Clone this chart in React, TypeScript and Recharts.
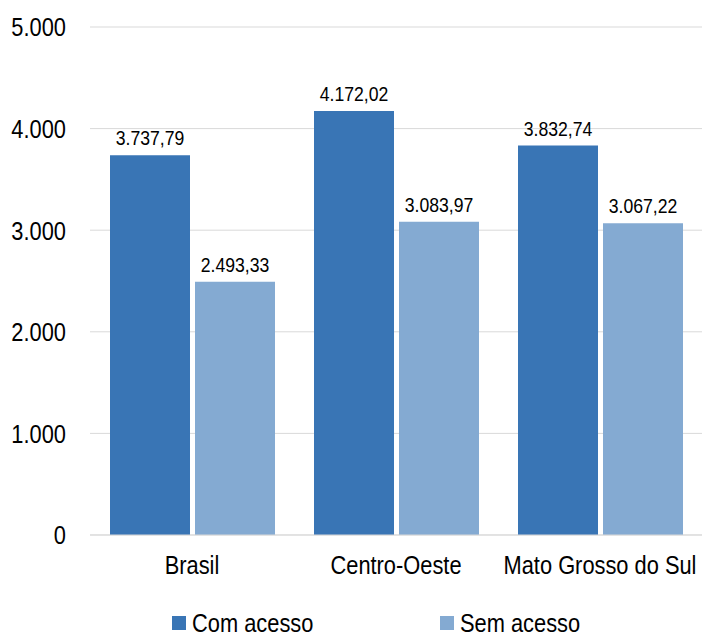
import { BarChart, Bar, XAxis, YAxis, CartesianGrid, LabelList, Legend } from "recharts";

const regions = ["Brasil", "Centro-Oeste", "Mato Grosso do Sul"];
const comAcesso = [3737.79, 4172.02, 3832.74];
const semAcesso = [2493.33, 3083.97, 3067.22];
const yTicks = [0, 1000, 2000, 3000, 4000, 5000];

const data = regions.map((name, i) => ({
  name,
  com: comAcesso[i],
  sem: semAcesso[i],
}));

// no narrow font available, so squeeze Liberation Sans horizontally
const FONT = "'Liberation Sans', Arial, sans-serif";
const SQUEEZE = 0.84;
const DARK = "#3975b5";
const LIGHT = "#84aad2";

const fmtInt = (v: number) => v.toLocaleString("pt-BR");
const fmtDec = (v: number) =>
  v.toLocaleString("pt-BR", { minimumFractionDigits: 2, maximumFractionDigits: 2 });

function NarrowText({ x, y, anchor, size, dy, children }: any) {
  return (
    <text
      transform={`translate(${x},${y}) scale(${SQUEEZE},1)`}
      textAnchor={anchor}
      dy={dy}
      fontFamily={FONT}
      fontSize={size}
      fill="#000"
    >
      {children}
    </text>
  );
}

const YTick = (p: any) => (
  <NarrowText x={p.x} y={p.y} anchor="end" size={26} dy="0.36em">
    {fmtInt(p.payload.value)}
  </NarrowText>
);

const XTick = (p: any) => (
  <NarrowText x={p.x} y={p.y} anchor="middle" size={26} dy="0.72em">
    {p.payload.value}
  </NarrowText>
);

const BarLabel = (p: any) => (
  <NarrowText x={p.x + p.width / 2} y={p.y - 10} anchor="middle" size={21}>
    {fmtDec(Number(p.value))}
  </NarrowText>
);

function LegendBox() {
  const items = [
    { label: "Com acesso", color: DARK, x: 172 },
    { label: "Sem acesso", color: LIGHT, x: 440 },
  ];
  return (
    <div style={{ position: "relative", height: 40, fontFamily: FONT, fontSize: 26, lineHeight: "30px", color: "#000" }}>
      {items.map((it) => (
        <div key={it.label} style={{ position: "absolute", left: it.x, top: 11, display: "flex", alignItems: "center" }}>
          <span style={{ width: 14, height: 14, background: it.color, display: "inline-block", marginRight: 6 }} />
          <span style={{ display: "inline-block", transform: `scaleX(${SQUEEZE})`, transformOrigin: "left center" }}>
            {it.label}
          </span>
        </div>
      ))}
    </div>
  );
}

export default function App() {
  return (
    <div style={{ position: "absolute", left: 0, top: 0, width: 702, height: 638, background: "#fff", overflow: "hidden" }}>
      <BarChart
        width={702}
        height={638}
        data={data}
        margin={{ top: 27, right: 0, left: 0, bottom: 0 }}
        barCategoryGap={20}
        barGap={5}
      >
        <CartesianGrid vertical={false} stroke="#d9d9d9" />
        <XAxis
          dataKey="name"
          interval={0}
          axisLine={{ stroke: "#d9d9d9" }}
          tickLine={false}
          tickMargin={14}
          height={62}
          tick={<XTick />}
        />
        <YAxis
          width={90}
          domain={[0, 5000]}
          ticks={yTicks}
          axisLine={false}
          tickLine={false}
          tickSize={0}
          tickMargin={24}
          tick={<YTick />}
        />
        <Legend verticalAlign="bottom" height={41} content={() => <LegendBox />} />
        <Bar dataKey="com" name="Com acesso" fill={DARK} isAnimationActive={false}>
          <LabelList dataKey="com" content={<BarLabel />} />
        </Bar>
        <Bar dataKey="sem" name="Sem acesso" fill={LIGHT} isAnimationActive={false}>
          <LabelList dataKey="sem" content={<BarLabel />} />
        </Bar>
      </BarChart>
    </div>
  );
}
